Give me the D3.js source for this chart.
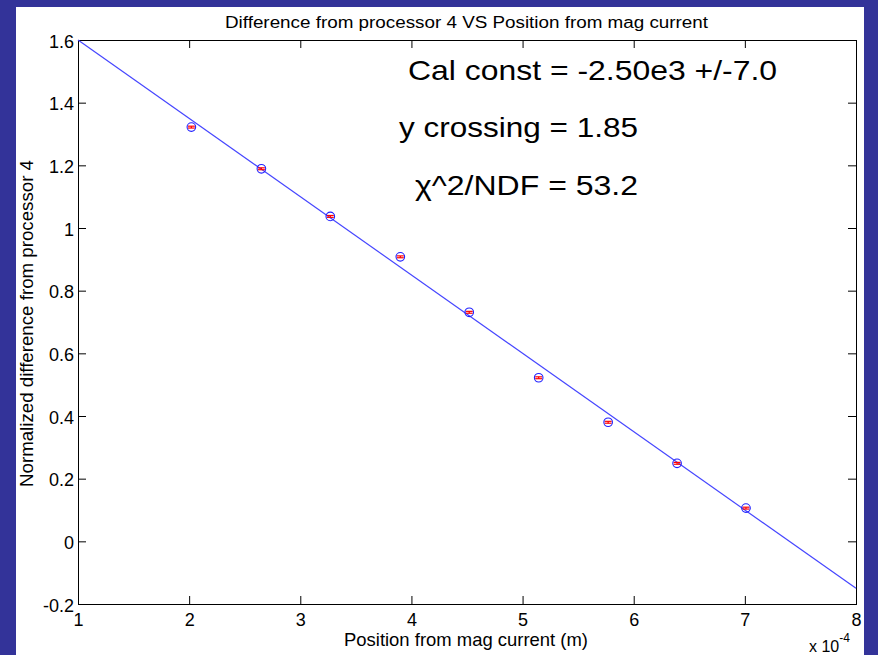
<!DOCTYPE html>
<html>
<head>
<meta charset="utf-8">
<script src="https://cdn.jsdelivr.net/npm/d3@7/dist/d3.min.js"></script>
<style>
  html, body { margin: 0; padding: 0; background: #333399; }
  svg { display: block; }
  text { font-family: "Liberation Sans", Arial, Helvetica, sans-serif; fill: #000; }
</style>
</head>
<body>
<svg id="chart" width="878" height="655"></svg>
<script>
// Measured positions (units of 1e-4 m) and normalized differences
const positions = [2.02, 2.65, 3.27, 3.90, 4.52, 5.145, 5.77, 6.39, 7.01];
const differences = [1.322, 1.189, 1.037, 0.908, 0.731, 0.522, 0.380, 0.249, 0.106];
const errors = [0.003, 0.003, 0.003, 0.003, 0.003, 0.003, 0.003, 0.003, 0.003];

// Linear fit: y = intercept + slope * x  (x in 1e-4 m)
const fitSlope = -0.25;
const fitIntercept = 1.85;

const xTicks = [1, 2, 3, 4, 5, 6, 7, 8];
const yTicks = [-0.2, 0, 0.2, 0.4, 0.6, 0.8, 1, 1.2, 1.4, 1.6];
const yTickLabels = ["-0.2", "0", "0.2", "0.4", "0.6", "0.8", "1", "1.2", "1.4", "1.6"];

const titleText = "Difference from processor 4 VS Position from mag current";
const xLabelText = "Position from mag current (m)";
const yLabelText = "Normalized difference from processor 4";
const fitNotes = ["Cal const = -2.50e3 +/-7.0", "y crossing = 1.85", "\u03c7^2/NDF = 53.2"];

const svg = d3.select("#chart");

// white figure panel
svg.append("rect").attr("x", 16).attr("y", 7).attr("width", 848).attr("height", 648).attr("fill", "#fff");

const plot = { left: 78, right: 856, top: 40, bottom: 604 };
const x = d3.scaleLinear().domain([1, 8]).range([plot.left, plot.right]);
const y = d3.scaleLinear().domain([-0.2, 1.6]).range([plot.bottom, plot.top]);

const font = "Liberation Sans, Arial, sans-serif";

// axes with inward ticks on all four sides
const gL = svg.append("g").attr("transform", `translate(${plot.left},0)`)
  .call(d3.axisLeft(y).tickValues(yTicks).tickSizeInner(-8).tickSizeOuter(0).tickPadding(4)
    .tickFormat((d, i) => yTickLabels[i]));
const gB = svg.append("g").attr("transform", `translate(0,${plot.bottom})`)
  .call(d3.axisBottom(x).tickValues(xTicks).tickSizeInner(-8).tickSizeOuter(0).tickPadding(9)
    .tickFormat(d3.format("d")));
const gT = svg.append("g").attr("transform", `translate(0,${plot.top})`)
  .call(d3.axisTop(x).tickValues(xTicks).tickSizeInner(-8).tickSizeOuter(0).tickFormat(""));
const gR = svg.append("g").attr("transform", `translate(${plot.right},0)`)
  .call(d3.axisRight(y).tickValues(yTicks).tickSizeInner(-8).tickSizeOuter(0).tickFormat(""));

[gL, gB, gT, gR].forEach(g => {
  g.select(".domain").remove();
  g.selectAll(".tick line").attr("stroke", "#000");
  g.selectAll(".tick text").attr("font-size", 18).attr("font-family", font).attr("fill", "#000");
});
gL.selectAll(".tick text").attr("dy", "0.4em");

// plot box
svg.append("rect")
  .attr("x", plot.left + 0.5).attr("y", plot.top + 0.5)
  .attr("width", plot.right - plot.left).attr("height", plot.bottom - plot.top)
  .attr("fill", "none").attr("stroke", "#000").attr("stroke-width", 1);

// fit line across the full x range
const xd = x.domain();
const fitPts = xd.map(v => [v, fitIntercept + fitSlope * v]);
svg.append("path")
  .datum(fitPts)
  .attr("d", d3.line().x(d => x(d[0])).y(d => y(d[1])))
  .attr("fill", "none").attr("stroke", "#4646ff").attr("stroke-width", 1.2);

// data points: red error bars with blue open circles
const pts = positions.map((p, i) => ({ x: p, y: differences[i], e: errors[i] }));
const g = svg.append("g");
pts.forEach(d => {
  const cx = x(d.x), y0 = y(d.y - d.e), y1 = y(d.y + d.e);
  g.append("line").attr("x1", cx).attr("x2", cx).attr("y1", y0).attr("y2", y1)
    .attr("stroke", "#ff0000").attr("stroke-width", 1.2);
  [y0, y1].forEach(yy => g.append("line").attr("x1", cx - 3.5).attr("x2", cx + 3.5)
    .attr("y1", yy).attr("y2", yy).attr("stroke", "#ff0000").attr("stroke-width", 1.2));
  g.append("circle").attr("cx", cx).attr("cy", y(d.y)).attr("r", 4.3)
    .attr("fill", "none").attr("stroke", "#2020ff").attr("stroke-width", 1.1);
});

// title and axis labels
svg.append("text").attr("x", 225).attr("y", 27.5).attr("font-size", 16)
  .attr("textLength", 483).attr("lengthAdjust", "spacingAndGlyphs").text(titleText);
svg.append("text").attr("x", 344).attr("y", 646).attr("font-size", 18.5)
  .attr("textLength", 244).attr("lengthAdjust", "spacingAndGlyphs").text(xLabelText);
svg.append("text").attr("transform", "translate(33,487) rotate(-90)").attr("font-size", 18)
  .attr("textLength", 327).attr("lengthAdjust", "spacingAndGlyphs").text(yLabelText);

// exponent multiplier for the x axis
const mult = svg.append("text").attr("x", 809).attr("y", 652).attr("font-size", 16);
mult.append("tspan").text("x 10");
mult.append("tspan").attr("font-size", 12).attr("dy", -10).text("-4");

// fit annotations
const notePos = [[408, 80, 369], [399, 137, 239], [415, 195, 223]];
fitNotes.forEach((t, i) => {
  svg.append("text").attr("x", notePos[i][0]).attr("y", notePos[i][1]).attr("font-size", 28)
    .attr("textLength", notePos[i][2]).attr("lengthAdjust", "spacingAndGlyphs").text(t);
});
</script>
</body>
</html>
